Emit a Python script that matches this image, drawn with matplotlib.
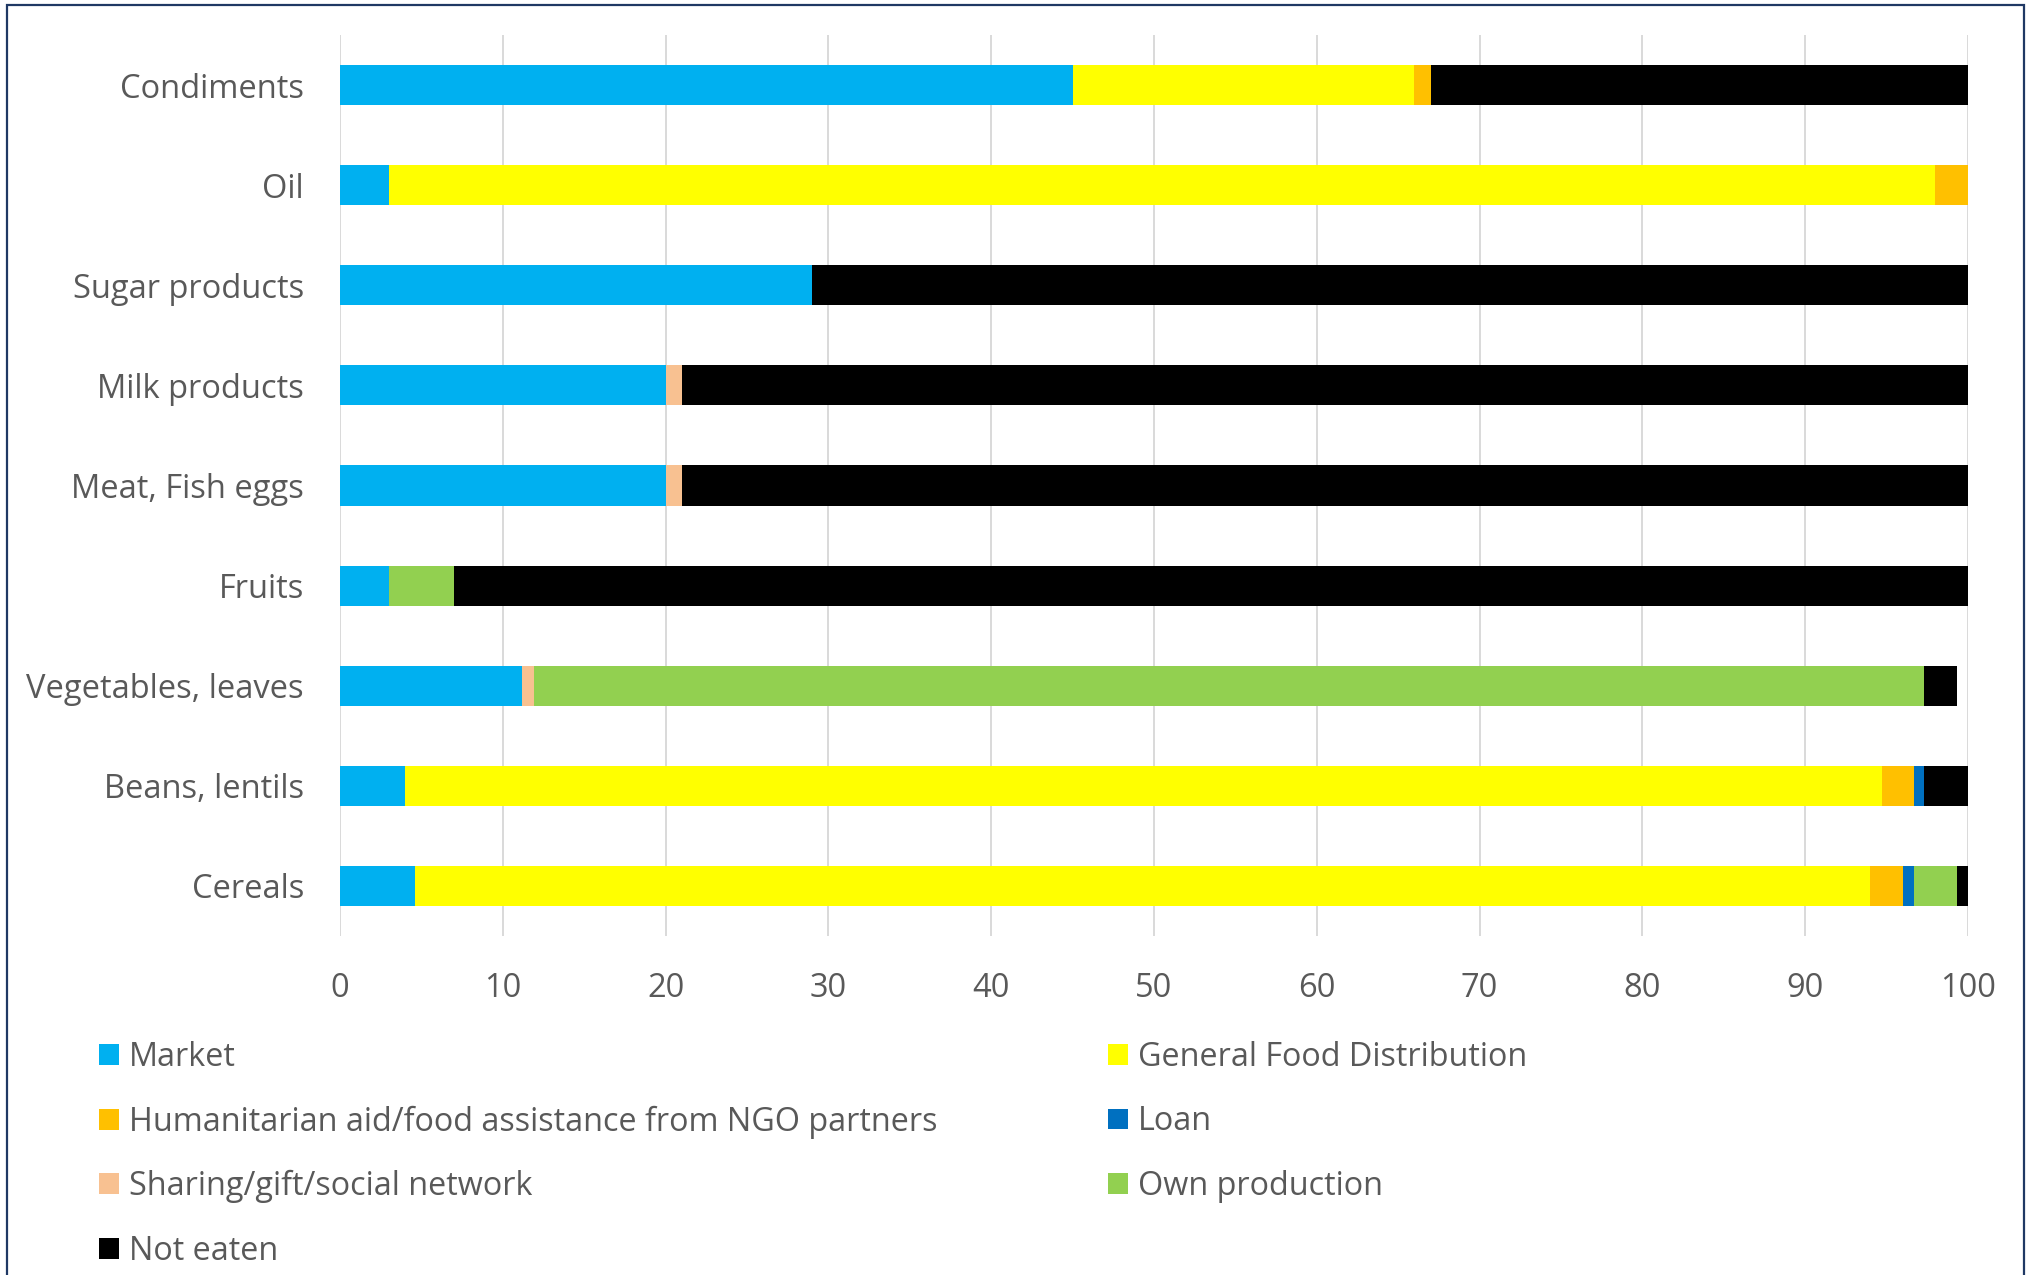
import numpy as np
import matplotlib.pyplot as plt
from matplotlib.patches import Patch, Rectangle

plt.rcParams['font.family'] = ['Open Sans', 'DejaVu Sans']

# categories, bottom to top
categories = ["Cereals", "Beans, lentils", "Vegetables, leaves", "Fruits",
              "Meat, Fish eggs", "Milk products", "Sugar products", "Oil", "Condiments"]

market       = [4.6, 4.0, 11.2, 3.0, 20.0, 20.0, 29.0, 3.0, 45.0]
general_food = [89.4, 90.7, 0.0, 0.0, 0.0, 0.0, 0.0, 95.0, 21.0]
humanitarian = [2.0, 2.0, 0.0, 0.0, 0.0, 0.0, 0.0, 2.0, 1.0]
loan         = [0.7, 0.6, 0.0, 0.0, 0.0, 0.0, 0.0, 0.0, 0.0]
sharing      = [0.0, 0.0, 0.7, 0.0, 1.0, 1.0, 0.0, 0.0, 0.0]
own_prod     = [2.6, 0.0, 85.4, 4.0, 0.0, 0.0, 0.0, 0.0, 0.0]
not_eaten    = [0.7, 2.7, 2.0, 93.0, 79.0, 79.0, 71.0, 0.0, 33.0]

series_names = ["Market", "General Food Distribution",
                "Humanitarian aid/food assistance from NGO partners", "Loan",
                "Sharing/gift/social network", "Own production", "Not eaten"]
series_values = [market, general_food, humanitarian, loan, sharing, own_prod, not_eaten]
colors = ["#00B0F0", "#FFFF00", "#FFC000", "#0070C0", "#F8C191", "#92D050", "#000000"]

text_color = "#595959"
fs = 23.5

fig = plt.figure(figsize=(20.26, 12.75), dpi=100)
W, H = 2026, 1275
ax = fig.add_axes([340 / W, 1 - 936 / H, (1968 - 340) / W, (936 - 35) / H])

y = np.arange(len(categories))
left = np.zeros(len(categories))
for name, vals, col in zip(series_names, series_values, colors):
    vals = np.array(vals)
    ax.barh(y, vals, left=left, height=0.4, color=col, label=name, zorder=3)
    left += vals

ax.set_xlim(0, 100)
ax.set_ylim(-0.5, 8.5)
ax.set_xticks(range(0, 101, 10))
ax.set_yticks(y)
ax.set_yticklabels(categories)
ax.grid(axis='x', color='#D9D9D9', linewidth=1.4, zorder=0)
ax.set_axisbelow(True)
for s in ax.spines.values():
    s.set_visible(False)
ax.tick_params(axis='both', length=0, colors=text_color, labelsize=fs)
ax.tick_params(axis='y', pad=26)
ax.tick_params(axis='x', pad=26)

# legend, row-major order as in the original
order = [0, 2, 4, 6, 1, 3, 5]
handles = [Patch(facecolor=colors[i], edgecolor='none') for i in order]
labels = [series_names[i] for i in order]
leg = fig.legend(handles, labels, loc='upper left', bbox_to_anchor=(99 / W, 1 - 1041 / H),
                 ncol=2, frameon=False, fontsize=23.3, labelcolor=text_color,
                 handlelength=0.62, handleheight=0.62, handletextpad=0.3,
                 columnspacing=5.27, labelspacing=0.97, borderpad=0, borderaxespad=0)

# outer frame (cut off at the bottom)
fig.patches.append(Rectangle((7 / W, -0.05), (2024 - 7) / W, 1.05 - 5 / H,
                             transform=fig.transFigure, fill=False,
                             edgecolor='#1F3864', linewidth=1.6))

fig.savefig("out.png", dpi=100)
